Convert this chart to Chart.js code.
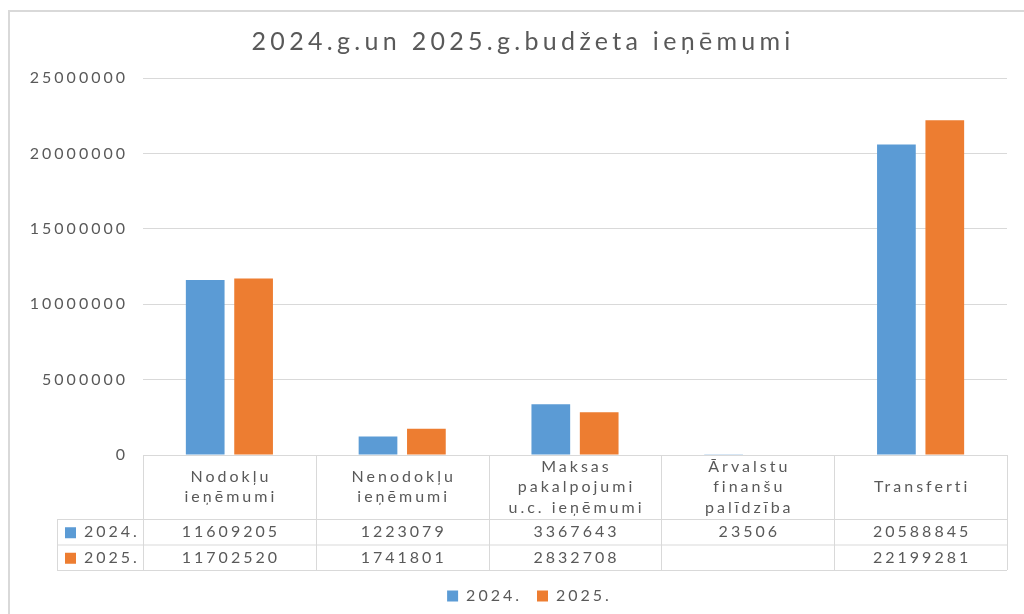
<!DOCTYPE html>
<html>
<head>
<meta charset="utf-8">
<script src="https://cdn.jsdelivr.net/npm/chart.js@4"></script>
<style>
  body { margin: 0; background: #fff; }
  #wrap { width: 1024px; height: 614px; position: relative; }
</style>
</head>
<body>
<div id="wrap"><canvas id="grafiks"></canvas></div>
<script>
// dati no grafika
const kategorijas = [
    ['Nodokļu', 'ieņēmumi'],
    ['Nenodokļu', 'ieņēmumi'],
    ['Maksas', 'pakalpojumi', 'u.c. ieņēmumi'],
    ['Ārvalstu', 'finanšu', 'palīdzība'],
    ['Transferti']
]
const gadi = ['2024.', '2025.']
const vertibas2024 = [11609205, 1223079, 3367643, 23506, 20588845]
const vertibas2025 = [11702520, 1741801, 2832708, null, 22199281]
const krasas = ['#5b9bd5', '#ed7d31']
const virsraksts = '2024.g.un 2025.g.budžeta ieņēmumi'

const teksts = '#595959'
const linija = '#d9d9d9'
const fonts = 'Lato'
const atstarpe = 3

// teksts ar retinātiem burtiem, kā oriģinālā
const retinats = {
    id: 'retinats',
    beforeLayout(chart) { chart.ctx.letterSpacing = atstarpe + 'px' },
    afterLayout(chart) {
        // leģenda oriģinālā ir nedaudz pa labi no centra
        chart.legend.left += 26
        chart.legend.right += 26
    },
    beforeDraw(chart) {
        const ctx = chart.ctx
        ctx.letterSpacing = atstarpe + 'px'
        ctx.fillStyle = '#fff'
        ctx.fillRect(0, 0, chart.width, chart.height)
        // rāmis
        ctx.save()
        ctx.strokeStyle = linija
        ctx.lineWidth = 2
        ctx.strokeRect(9, 11, chart.width + 20, chart.height + 20)
        // virsraksts
        ctx.letterSpacing = '4.3px'
        ctx.fillStyle = teksts
        ctx.font = '25px ' + fonts
        ctx.textAlign = 'center'
        ctx.textBaseline = 'middle'
        ctx.fillText(virsraksts, 521 + 2.1, 42)
        ctx.restore()
    }
}

// datu tabula zem grafika
const tabula = {
    id: 'tabula',
    afterDraw(chart) {
        const ctx = chart.ctx
        const x = chart.scales.x
        const area = chart.chartArea
        const solis = (area.right - area.left) / kategorijas.length
        const galvaAugst = 64
        const rindaAugst = 25.5
        const kreisais = 57
        const y0 = area.bottom
        const y1 = y0 + galvaAugst
        const y2 = y1 + rindaAugst
        const y3 = y2 + rindaAugst
        const nobide = atstarpe / 2

        ctx.save()
        ctx.strokeStyle = linija
        ctx.lineWidth = 1
        ctx.beginPath()
        ctx.moveTo(area.left, y0 + 0.5); ctx.lineTo(area.right, y0 + 0.5)
        ctx.moveTo(kreisais, y1 + 0.5); ctx.lineTo(area.right, y1 + 0.5)
        ctx.moveTo(kreisais, y2 + 0.5); ctx.lineTo(area.right, y2 + 0.5)
        ctx.moveTo(kreisais, y3 + 0.5); ctx.lineTo(area.right, y3 + 0.5)
        ctx.moveTo(kreisais + 0.5, y1); ctx.lineTo(kreisais + 0.5, y3)
        for (let i = 0; i <= kategorijas.length; i++) {
            const lx = Math.round(area.left + i * solis) + 0.5
            ctx.moveTo(lx, y0); ctx.lineTo(lx, y3)
        }
        ctx.stroke()

        ctx.fillStyle = teksts
        ctx.font = '16px ' + fonts
        ctx.textAlign = 'center'
        ctx.textBaseline = 'middle'
        kategorijas.forEach((rindas, i) => {
            const cx = x.getPixelForValue(i) + nobide
            const sak = (y0 + y1) / 2 - (rindas.length - 1) * 10.25
            rindas.forEach((r, j) => ctx.fillText(r, cx, sak + j * 20.5))
        })

        const rindasDati = [vertibas2024, vertibas2025]
        rindasDati.forEach((dati, r) => {
            const cy = y1 + rindaAugst * r + rindaAugst / 2 + 0.5
            ctx.textAlign = 'center'
            dati.forEach((v, i) => {
                if (v !== null) ctx.fillText(String(v), x.getPixelForValue(i) + nobide, cy)
            })
            ctx.fillStyle = krasas[r]
            ctx.fillRect(65, cy - 5, 11, 11)
            ctx.fillStyle = teksts
            ctx.textAlign = 'left'
            ctx.fillText(gadi[r], 84, cy)
        })
        ctx.restore()
    }
}

const ctx = document.getElementById('grafiks').getContext('2d')
const grafiks = new Chart(ctx, {
    type: 'bar',
    data: {
        labels: kategorijas,
        datasets: [{
            label: gadi[0],
            data: vertibas2024,
            backgroundColor: krasas[0],
            categoryPercentage: 0.56,
            barPercentage: 0.8
        }, {
            label: gadi[1],
            data: vertibas2025,
            backgroundColor: krasas[1],
            categoryPercentage: 0.56,
            barPercentage: 0.8
        }]
    },
    options: {
        responsive: true,
        maintainAspectRatio: false,
        animation: false,
        layout: {
            padding: { top: 78, right: 17, left: 0, bottom: 0 }
        },
        scales: {
            x: {
                grid: { display: false },
                border: { display: false },
                ticks: { display: false },
                afterFit(scale) { scale.height = 118 }
            },
            y: {
                min: 0,
                max: 25000000,
                ticks: {
                    stepSize: 5000000,
                    color: teksts,
                    padding: 15,
                    font: { family: fonts, size: 16 },
                    callback: v => String(v)
                },
                grid: { color: linija, drawTicks: false },
                border: { display: false },
                afterFit(scale) { scale.width = 143 }
            }
        },
        plugins: {
            title: { display: false },
            legend: {
                position: 'bottom',
                labels: {
                    color: teksts,
                    boxWidth: 11,
                    boxHeight: 11,
                    padding: 15,
                    font: { family: fonts, size: 16 }
                }
            },
            tooltip: { enabled: false }
        }
    },
    plugins: [retinats, tabula]
})
</script>
</body>
</html>
